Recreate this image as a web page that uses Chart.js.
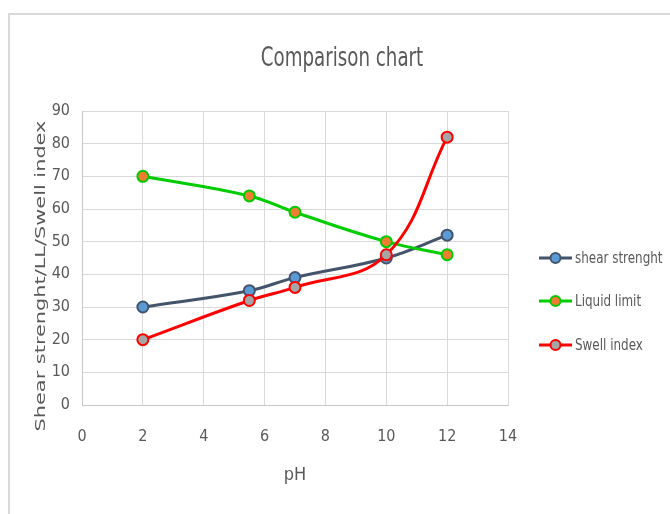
<!DOCTYPE html>
<html>
<head>
<meta charset="utf-8">
<script src="https://cdn.jsdelivr.net/npm/chart.js@4/dist/chart.umd.min.js"></script>
<style>
  html, body { margin: 0; padding: 0; background: #ffffff; }
  #wrap { position: relative; width: 670px; height: 514px; overflow: hidden; }
  #frame { position: absolute; left: 8px; top: 13px; width: 700px; height: 540px;
           border-top: 2px solid #D9D9D9; border-left: 2px solid #D9D9D9; }
  #c { position: absolute; left: 0; top: 0; }
</style>
</head>
<body>
<div id="wrap">
  <div id="frame"></div>
  <canvas id="c" width="670" height="514" style="width:670px;height:514px"></canvas>
</div>
<script>
// ---- data ----
const phValues      = [2, 5.5, 7, 10, 12];
const shearStrength = [30, 35, 39, 45, 52];
const liquidLimit   = [70, 64, 59, 50, 46];
const swellIndex    = [20, 32, 36, 46, 82];
const seriesNames   = ['shear strenght', 'Liquid limit', 'Swell index'];
const xTicks        = [0, 2, 4, 6, 8, 10, 12, 14];
const yTicks        = [0, 10, 20, 30, 40, 50, 60, 70, 80, 90];
const chartTitle    = 'Comparison chart';
const xTitle        = 'pH';
const yTitle        = 'Shear strenght/LL/Swell index';

const NARROW = '"Liberation Sans Narrow", "DejaVu Sans Condensed", "Arial Narrow", sans-serif';
const TXT = '#595959';

function pts(vals) { return phValues.map((x, i) => ({ x: x, y: vals[i] })); }

const styles = [
  { line: '#44546A', fill: '#5B9BD5', order: 3 },
  { line: '#00CC00', fill: '#ED7D31', order: 2 },
  { line: '#FF0000', fill: '#A5A5A5', order: 1 }
];
const seriesValues = [shearStrength, liquidLimit, swellIndex];

const datasets = seriesValues.map((vals, i) => ({
  label: seriesNames[i],
  data: pts(vals),
  borderColor: styles[i].line,
  backgroundColor: styles[i].fill,
  pointBackgroundColor: styles[i].fill,
  pointBorderColor: styles[i].line,
  pointBorderWidth: 2,
  pointRadius: 5.5,
  pointHoverRadius: 5.5,
  borderWidth: 3,
  tension: 0.4,
  order: styles[i].order
}));

// chart title, slightly condensed like the reference
const squeezedTitle = {
  id: 'squeezedTitle',
  afterDraw(chart) {
    const ctx = chart.ctx;
    ctx.save();
    ctx.translate(342, 59);
    ctx.scale(0.78, 1);
    ctx.font = '26px ' + NARROW;
    ctx.fillStyle = TXT;
    ctx.textAlign = 'center'; ctx.textBaseline = 'middle';
    ctx.fillText(chartTitle, 0, 0);
    ctx.restore();
  }
};

// custom legend (line + marker sample, like the reference)
const sideLegend = {
  id: 'sideLegend',
  afterDraw(chart) {
    const ctx = chart.ctx;
    const area = chart.chartArea;
    const x0 = area.right + 31, x1 = area.right + 64;
    const rows = [258, 301, 345];
    ctx.save();
    chart.data.datasets.forEach((ds, i) => {
      const y = rows[i];
      ctx.strokeStyle = ds.borderColor;
      ctx.lineWidth = 3;
      ctx.beginPath(); ctx.moveTo(x0, y); ctx.lineTo(x1, y); ctx.stroke();
      ctx.beginPath(); ctx.arc((x0 + x1) / 2, y, 5, 0, Math.PI * 2);
      ctx.fillStyle = ds.pointBackgroundColor; ctx.fill();
      ctx.lineWidth = 2; ctx.strokeStyle = ds.pointBorderColor; ctx.stroke();
      ctx.save();
      ctx.translate(x1 + 3, y + 1);
      ctx.scale(0.83, 1);
      ctx.fillStyle = TXT;
      ctx.font = '16px ' + NARROW;
      ctx.textAlign = 'left'; ctx.textBaseline = 'middle';
      ctx.fillText(ds.label, 0, 0);
      ctx.restore();
    });
    ctx.restore();
  }
};

// y axis title, stretched along its length as in the reference
const yAxisTitle = {
  id: 'yAxisTitle',
  afterDraw(chart) {
    const ctx = chart.ctx;
    const area = chart.chartArea;
    ctx.save();
    ctx.translate(41, (area.top + area.bottom) / 2 + 18);
    ctx.rotate(-Math.PI / 2);
    ctx.scale(1.49, 1);
    ctx.font = '14px "DejaVu Sans", sans-serif';
    ctx.fillStyle = TXT;
    ctx.textAlign = 'center'; ctx.textBaseline = 'middle';
    ctx.fillText(yTitle, 0, 0);
    ctx.restore();
  }
};

new Chart(document.getElementById('c'), {
  type: 'line',
  data: { datasets: datasets },
  options: {
    responsive: false,
    animation: false,
    devicePixelRatio: 1,
    layout: { padding: { left: 0, right: 162, top: 111, bottom: 0 } },
    plugins: {
      legend: { display: false },
      tooltip: { enabled: false },
      title: { display: false }
    },
    scales: {
      x: {
        type: 'linear',
        min: xTicks[0], max: xTicks[xTicks.length - 1],
        afterBuildTicks: (s) => { s.ticks = xTicks.map(v => ({ value: v })); },
        afterFit: (s) => { s.height = 109; },
        grid: { color: '#D9D9D9', lineWidth: 1, drawTicks: false },
        border: { color: '#C8C8C8', width: 1 },
        ticks: { color: TXT, padding: 22, font: { family: NARROW, size: 16 } },
        title: { display: true, text: xTitle, color: TXT,
                 font: { family: NARROW, size: 18 }, padding: { top: 0, bottom: 28 } }
      },
      y: {
        type: 'linear',
        min: yTicks[0], max: yTicks[yTicks.length - 1],
        afterBuildTicks: (s) => { s.ticks = yTicks.map(v => ({ value: v })); },
        afterFit: (s) => { s.width = 82; },
        grid: { color: '#D9D9D9', lineWidth: 1, drawTicks: false },
        border: { color: '#C8C8C8', width: 1 },
        ticks: { color: TXT, padding: 12, font: { family: NARROW, size: 16 } }
      }
    }
  },
  plugins: [squeezedTitle, sideLegend, yAxisTitle]
});
</script>
</body>
</html>
